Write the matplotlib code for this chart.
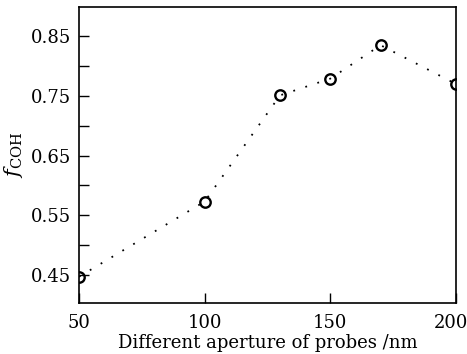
import matplotlib
matplotlib.use("Agg")
import matplotlib.pyplot as plt
import matplotlib.transforms as mtransforms

# aperture sizes (nm) and coherence factor
aperture = [50, 100, 130, 150, 170, 200]
fCoh = [0.447, 0.573, 0.751, 0.779, 0.835, 0.770]
xTicks = [50, 100, 150, 200]
yTicks = [0.45, 0.55, 0.65, 0.75, 0.85]
yMinorTicks = [0.50, 0.60, 0.70, 0.80]

plt.rcParams['font.family'] = 'DejaVu Serif'
plt.rcParams['mathtext.fontset'] = 'dejavuserif'

fig = plt.figure(figsize=(4.67, 3.54), dpi=100)
ax = fig.add_axes([79 / 467, 1 - 303 / 354, 377 / 467, 296 / 354])

ax.plot(aperture, fCoh, linestyle=(0, (1, 6)), color='black', lw=1.3,
        marker='o', markersize=7.5, markerfacecolor='none',
        markeredgewidth=1.7, markeredgecolor='black')

ax.set_xlim(50, 200)
ax.set_ylim(0.403, 0.899)
ax.set_xticks(xTicks)
ax.set_yticks(yTicks)
ax.set_yticklabels(['%.2f' % v for v in yTicks])
ax.set_yticks(yMinorTicks, minor=True)

ax.tick_params(axis='both', which='both', direction='in', length=7,
               width=1, labelsize=13, top=False, right=False, pad=6)
ax.tick_params(axis='x', pad=8)
for s in ax.spines.values():
    s.set_linewidth(1.2)

# nudge the last x label so it stays inside the image
lastLabel = ax.get_xticklabels()[-1]
lastLabel.set_transform(lastLabel.get_transform() +
                        mtransforms.ScaledTranslation(-5 / 100, 0, fig.dpi_scale_trans))

ax.set_xlabel('Different aperture of probes /nm', fontsize=13, labelpad=1)
ax.set_ylabel(r'$f_{\rm COH}$', fontsize=15, labelpad=4)

fig.savefig('out.png', dpi=100)
